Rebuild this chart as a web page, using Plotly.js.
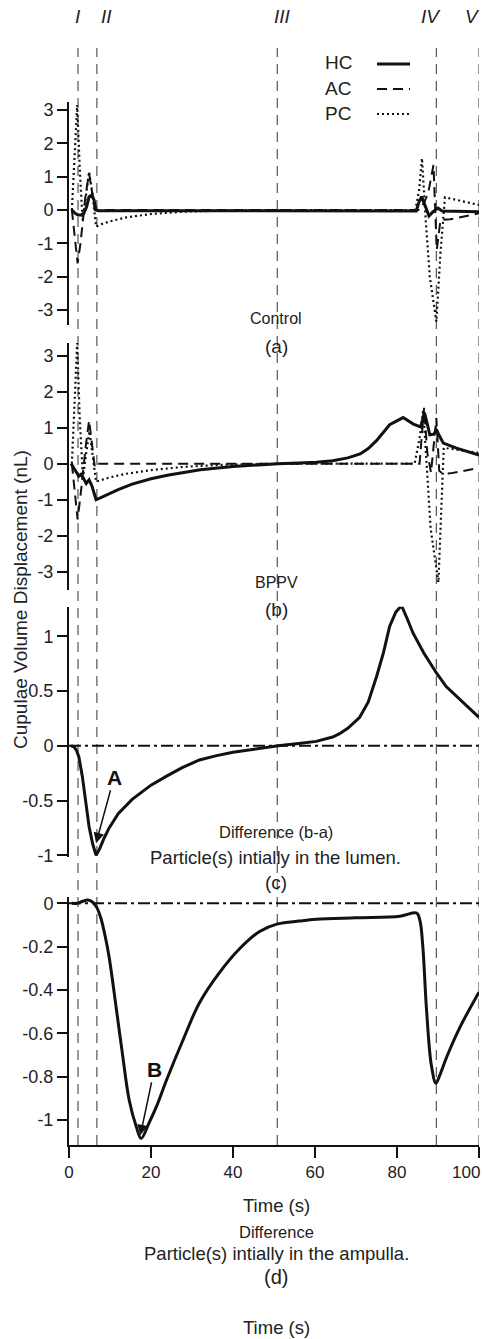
<!DOCTYPE html>
<html><head><meta charset="utf-8">
<script src="https://cdn.plot.ly/plotly-3.0.1.min.js"></script>
<style>html,body{margin:0;padding:0;background:#fff}#chart{width:482px;height:1339px}</style>
</head><body><div id="chart"></div>
<script>
// ---------------- DATA ----------------
// (a) Control
const hcControlT = [0.7, 1.5, 2.2, 2.9, 3.6, 4.3, 4.9, 5.6, 6.1, 6.6, 7.2, 20, 40, 60, 80, 84.7, 85.4, 86.0, 86.8, 87.8, 88.8, 90.0, 91.0, 100];
const hcControlY = [0, -0.1, -0.15, -0.15, -0.1, 0.1, 0.4, 0.45, 0.3, 0.0, -0.02, -0.02, -0.02, -0.02, -0.03, -0.03, 0.25, 0.4, 0.15, -0.18, -0.05, 0.06, -0.03, -0.05];
const acControlT = [0.7, 1.4, 2.1, 2.8, 3.4, 4.1, 4.9, 5.6, 6.3, 7.0, 85.5, 86.5, 87.6, 88.9, 89.7, 90.6, 93, 100];
const acControlY = [0, -0.8, -1.6, -1.0, -0.2, 0.5, 1.1, 0.6, 0.0, 0.0, 0.0, 0.2, 0.5, 1.35, -1.2, -0.3, -0.28, -0.1];
const pcControlT = [0.7, 1.3, 2.0, 2.6, 3.3, 4.1, 4.9, 5.7, 6.6, 8, 10, 14, 20, 28, 40, 55, 84.5, 85.4, 86.1, 87.0, 88.0, 89.6, 90.6, 91.7, 95, 100];
const pcControlY = [0, 1.6, 3.15, 1.3, -0.3, 0.4, 1.15, 0.5, -0.5, -0.42, -0.34, -0.22, -0.12, -0.05, -0.01, 0, 0, 0.6, 1.55, -0.3, -2.0, -3.35, -1.3, 0.38, 0.28, 0.15];
// (b) BPPV
const hcBPPVT = [0.5, 1.2, 2.4, 2.9, 3.4, 4.2, 4.9, 5.6, 6.6, 7.5, 9.8, 12, 15.4, 20, 24, 32, 40, 46, 51, 56, 60.3, 64.3, 68, 71, 73, 75, 78.2, 81.5, 84, 85.8, 86.7, 87.4, 88.0, 89.0, 89.6, 90.3, 91.3, 94.5, 97, 100];
const hcBPPVY = [0, -0.12, -0.35, -0.3, -0.38, -0.55, -0.45, -0.62, -1.0, -0.96, -0.84, -0.72, -0.57, -0.42, -0.32, -0.17, -0.08, -0.03, 0, 0.02, 0.04, 0.08, 0.16, 0.27, 0.42, 0.64, 1.08, 1.28, 1.1, 1.02, 1.42, 1.1, 0.8, 0.82, 0.95, 0.78, 0.57, 0.43, 0.34, 0.24];
const acBPPVT = [0.7, 1.4, 2.1, 2.8, 3.4, 4.1, 4.9, 5.6, 6.3, 7.0, 85.5, 86.6, 87.4, 88.3, 89.6, 90.3, 91.2, 93, 96, 100];
const acBPPVY = [0, -0.8, -1.55, -0.9, -0.2, 0.5, 1.2, 0.5, -0.1, 0, 0, 1.55, 0.3, -0.25, 1.27, -0.2, -0.28, -0.27, -0.2, -0.12];
const pcBPPVT = [0.7, 1.3, 2.0, 2.6, 3.4, 4.2, 5.0, 5.8, 6.6, 8, 10, 14, 20, 28, 36, 45, 55, 84.3, 85.5, 86.4, 87.2, 88.2, 90.1, 90.8, 91.4, 95, 100];
const pcBPPVY = [0, 1.7, 3.35, 1.3, -0.4, 0.3, 0.9, 0.2, -0.5, -0.45, -0.38, -0.28, -0.18, -0.09, -0.04, -0.01, 0, 0, 0.7, 1.5, 0, -1.8, -3.3, -1.5, 0.44, 0.38, 0.3];
// (c) Difference (b-a), particle(s) initially in the lumen
const diffLumenT = [0.5, 1.2, 1.8, 2.4, 3.25, 4.2, 4.9, 5.8, 6.6, 7.5, 8.6, 9.8, 12, 15.4, 20, 23.7, 27.6, 31.8, 36, 40, 45, 51, 56, 60.3, 64.3, 66, 68, 70.9, 73, 75, 76.7, 78.2, 79.7, 81.1, 82.5, 83.9, 86.5, 89.7, 92, 94.5, 97, 100];
const diffLumenY = [0, -0.01, -0.04, -0.1, -0.28, -0.55, -0.74, -0.9, -1.0, -0.94, -0.84, -0.75, -0.62, -0.49, -0.36, -0.28, -0.2, -0.13, -0.09, -0.06, -0.03, 0, 0.02, 0.04, 0.08, 0.11, 0.16, 0.26, 0.4, 0.63, 0.85, 1.09, 1.22, 1.28, 1.16, 1.03, 0.85, 0.66, 0.54, 0.45, 0.36, 0.26];
// (d) Difference, particle(s) initially in the ampulla
const diffAmpullaT = [0.7, 2.0, 3.2, 4.6, 5.8, 6.8, 7.8, 8.8, 9.8, 11.5, 13.0, 14.7, 16.4, 17.6, 19.6, 21.5, 23.7, 27.6, 31.8, 36.7, 41.6, 46.5, 50.9, 56.2, 60.3, 70, 80.7, 84.8, 85.6, 86.3, 87.2, 88.4, 89.5, 90.5, 92.1, 95.4, 100];
const diffAmpullaY = [0, 0, 0.008, 0.015, 0.005, -0.02, -0.07, -0.15, -0.25, -0.48, -0.69, -0.91, -1.03, -1.085, -1.01, -0.93, -0.82, -0.64, -0.46, -0.32, -0.21, -0.13, -0.095, -0.082, -0.074, -0.067, -0.06, -0.045, -0.08, -0.2, -0.49, -0.75, -0.83, -0.79, -0.71, -0.57, -0.41];

const eventTimes = [2.2, 6.8, 50.8, 89.6, 100];
const eventLabels = ['I', 'II', 'III', 'IV', 'V'];

const xTickVals = [0, 20, 40, 60, 80, 100];
const xTickText = ['0', '20', '40', '60', '80', '100\u2003\u2002'];
const yTickValsAB = [-3, -2, -1, 0, 1, 2, 3];
const yTickTextAB = ['-3', '-2', '-1', '0', '1', '2', '3'];
const yTickValsC = [-1, -0.5, 0, 0.5, 1];
const yTickTextC = ['-1', '-0.5', '0', '0.5', '1'];
const yTickValsD = [-1, -0.8, -0.6, -0.4, -0.2, 0];
const yTickTextD = ['-1', '-0.8', '-0.6', '-0.4', '-0.2', '0'];

const seriesNames = ['HC', 'AC', 'PC'];

// ---------------- LAYOUT HELPERS ----------------
const W = 482, H = 1339;
const px = x => x / W;
const py = y => 1 - y / H;
const FONT = 'Liberation Sans, Arial, Helvetica, sans-serif';
const INK = '#111';
const TXT = '#222';

const hcLine = {color: INK, width: 3};
const acLine = {color: INK, width: 2, dash: '10px,6px'};
const pcLine = {color: INK, width: 2.2, dash: '2px,3px'};

function tr(x, y, ya, line, shape) {
  return {x: x, y: y, xaxis: 'x', yaxis: ya, type: 'scatter', mode: 'lines',
          line: Object.assign({shape: shape || 'linear'}, line), showlegend: false, hoverinfo: 'skip'};
}

const data = [
  tr(pcControlT, pcControlY, 'y4', pcLine),
  tr(acControlT, acControlY, 'y4', acLine),
  tr(hcControlT, hcControlY, 'y4', hcLine),
  tr(pcBPPVT, pcBPPVY, 'y3', pcLine),
  tr(acBPPVT, acBPPVY, 'y3', acLine),
  tr(hcBPPVT, hcBPPVY, 'y3', hcLine),
  tr(diffLumenT, diffLumenY, 'y2', hcLine),
  tr(diffAmpullaT, diffAmpullaY, 'y', hcLine, 'spline')
];

function yax(dom, range, tv, tt) {
  return {domain: dom, range: range, anchor: 'x', showline: true, linecolor: INK, linewidth: 2,
          ticks: 'outside', ticklen: 10, tickwidth: 2, tickcolor: INK,
          tickvals: tv, ticktext: tt, tickfont: {family: FONT, size: 18, color: TXT},
          showgrid: false, zeroline: false, fixedrange: true};
}

const shapes = [];
eventTimes.forEach(t => shapes.push({type: 'line', xref: 'x', yref: 'paper', x0: t, x1: t,
  y0: py(1145), y1: py(48), line: {color: '#555', width: 1.2, dash: '10px,7px'}, layer: 'below'}));
// zero reference lines (c) and (d)
shapes.push({type: 'line', xref: 'x', yref: 'y2', x0: 0, x1: 100, y0: 0, y1: 0,
  line: {color: INK, width: 2, dash: '12px,4px,3px,4px'}, layer: 'below'});
shapes.push({type: 'line', xref: 'x', yref: 'y', x0: 0, x1: 100, y0: 0, y1: 0,
  line: {color: INK, width: 2, dash: '12px,4px,3px,4px'}, layer: 'below'});
// legend samples
const legendStyles = [hcLine, acLine, pcLine];
const legendY = [64, 89, 114];
legendStyles.forEach((ls, i) => shapes.push({type: 'line', xref: 'paper', yref: 'paper',
  x0: px(377), x1: px(410), y0: py(legendY[i]), y1: py(legendY[i]),
  line: {color: INK, width: ls.width, dash: ls.dash || 'solid'}}));

const annotations = [];
function txt(text, x, y, size, opts) {
  annotations.push(Object.assign({text: text, xref: 'paper', yref: 'paper', x: px(x), y: py(y),
    xanchor: 'center', yanchor: 'middle', showarrow: false,
    font: {family: FONT, size: size, color: TXT}}, opts || {}));
}
const romanX = [78, 106, 282, 431, 482];
eventLabels.forEach((l, i) => txt('<i>' + l + '</i>', romanX[i], 17, 19, i === 4 ? {xanchor: 'right'} : {}));
seriesNames.forEach((n, i) => txt(n, 323, legendY[i] - 1, 19, {xanchor: 'left'}));
txt('Control', 276, 318, 16);
txt('(a)', 276, 346, 19);
txt('BPPV', 276, 582, 16);
txt('(b)', 276, 609, 19);
txt('Difference (b-a)', 276, 832, 16.5);
txt('Particle(s) intially in the lumen.', 275, 857, 18.5);
txt('(c)', 276, 882, 19);
txt('Time (s)', 276, 1205, 18.5);
txt('Difference', 276, 1232, 16.5);
txt('Particle(s) intially in the ampulla.', 276, 1253, 18.5);
txt('(d)', 276, 1277, 20);
txt('Time (s)', 276, 1327, 18.5);
txt('Cupulae Volume Displacement (nL)', 20, 600, 19, {textangle: -90});

annotations.push({text: '<b>A</b>', xref: 'x', yref: 'y2', x: 6.6, y: -0.89, ax: 18, ay: -66,
  showarrow: true, arrowhead: 2, arrowsize: 1.4, arrowwidth: 1.5, arrowcolor: INK, standoff: 0,
  font: {family: FONT, size: 21, color: INK}});
annotations.push({text: '<b>B</b>', xref: 'x', yref: 'y', x: 17.4, y: -1.07, ax: 14, ay: -66,
  showarrow: true, arrowhead: 2, arrowsize: 1.4, arrowwidth: 1.5, arrowcolor: INK, standoff: 0,
  font: {family: FONT, size: 21, color: INK}});

const layout = {
  width: W, height: H, margin: {l: 0, r: 0, t: 0, b: 0}, paper_bgcolor: '#fff', plot_bgcolor: 'rgba(0,0,0,0)',
  showlegend: false, font: {family: FONT, color: TXT},
  xaxis: {domain: [px(69), px(479)], range: [0, 100], anchor: 'y', showline: true, linecolor: INK, linewidth: 2,
          ticks: 'outside', ticklen: 11, tickwidth: 2, tickcolor: INK, tickvals: xTickVals, ticktext: xTickText,
          ticklabeloverflow: 'allow',
          tickfont: {family: FONT, size: 17, color: TXT},
          showgrid: false, zeroline: false, fixedrange: true},
  yaxis: yax([py(1145), py(897)], [-1.115, 0.029], yTickValsD, yTickTextD),
  yaxis2: yax([py(857), py(606.7)], [-1.016, 1.27], yTickValsC, yTickTextC),
  yaxis3: yax([py(590), py(342.7)], [-3.51, 3.36], yTickValsAB, yTickTextAB),
  yaxis4: yax([py(325), py(102)], [-3.45, 3.24], yTickValsAB, yTickTextAB),
  shapes: shapes, annotations: annotations
};

Plotly.newPlot('chart', data, layout, {displayModeBar: false, staticPlot: true});
</script></body></html>
